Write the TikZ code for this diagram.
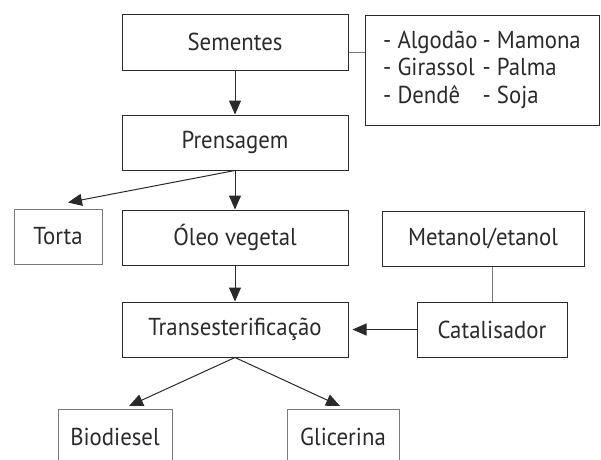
\documentclass[tikz,border=0pt]{standalone}
\usepackage{fontspec}
\setmainfont[FakeStretch=0.93]{PT Sans}
\usetikzlibrary{arrows.meta,calc}
\definecolor{ink}{HTML}{2a2a2a}
\definecolor{soft}{HTML}{7a7a7a}
\begin{document}
\begin{tikzpicture}[x=1pt,y=-1pt,
  box/.style={draw=ink,line width=1pt,inner sep=0pt,minimum width=#1,minimum height=55pt,
    text=ink,font=\fontsize{24.5}{27}\selectfont},
  gbox/.style={box=#1,draw=soft},
  arr/.style={draw=ink,line width=1pt,-{Triangle[width=12pt,length=14pt]}},
  ln/.style={draw=soft,line width=1pt}]
\useasboundingbox (0,0) rectangle (601,459);
\clip (0,0) rectangle (601,459);
\node[box=226pt,minimum height=56pt] (sem) at (235,42) {Sementes};
\node[draw=ink,line width=1pt,minimum width=234pt,minimum height=110pt,inner sep=0pt,text=ink,
  font=\fontsize{24.5}{27.5}\selectfont] (list) at (482,70)
  {\begin{tabular}{@{}l@{\hspace{5pt}}l@{}}- Algodão & - Mamona\\ - Girassol & - Palma\\ - Dendê & - Soja\end{tabular}};
\node[box=226pt] (pren) at (235,142.5) {Prensagem};
\node[gbox=88pt] (torta) at (58,236.5) {Torta};
\node[box=226pt] (oleo) at (235,237.5) {Óleo vegetal};
\node[box=202pt] (met) at (483,238.5) {Metanol/etanol};
\node[box=226pt] (trans) at (235,329.5) {Transesterificação};
\node[box=150pt] (cat) at (492,329.5) {Catalisador};
\node[gbox=114pt,anchor=north] (bio) at (115,409) {Biodiesel};
\node[gbox=112pt,anchor=north] (gli) at (343,409) {Glicerina};
\coordinate (tortatip) at ($(torta.north)+(10,-6)$);
\coordinate (biotip) at ($(bio.north)+(14,-3)$);
\coordinate (glitip) at ($(gli.north)+(-3,-3)$);
\draw[ln] ($(sem.east)+(0,10)$) -- ($(list.west)+(0,-18)$);
\draw[arr] (sem.south) -- (pren.north);
\draw[arr] (pren.south) -- (oleo.north);
\draw[arr] (pren.south) -- (tortatip);
\draw[arr] (oleo.south) -- (trans.north);
\draw[ln] (cat.north) -- (cat.north |- met.south);
\draw[arr,shorten >=4pt] (cat.west) -- (trans.east);
\draw[arr] (trans.south) -- (biotip);
\draw[arr] (trans.south) -- (glitip);
\end{tikzpicture}
\end{document}
